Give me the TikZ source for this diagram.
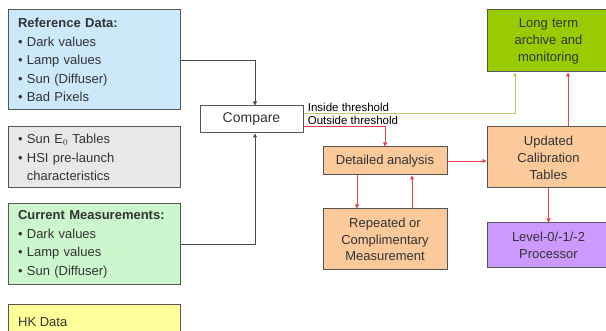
\documentclass[tikz,border=0pt]{standalone}
\usepackage{fontspec}
\setmainfont{Liberation Sans}
\usepackage{xcolor}
\usetikzlibrary{arrows.meta,calc}
\definecolor{refblue}{HTML}{CCE8FB}
\definecolor{tabgray}{HTML}{E8E8E8}
\definecolor{curgreen}{HTML}{CCF7CC}
\definecolor{hkyellow}{HTML}{FFFF99}
\definecolor{anaorange}{HTML}{FCC99B}
\definecolor{archgreen}{HTML}{99CC00}
\definecolor{procpurple}{HTML}{CC99FF}
\definecolor{redline}{HTML}{E8414F}
\definecolor{grnline}{HTML}{B3CF6A}
\definecolor{boxline}{HTML}{555555}

\begin{document}
\begin{tikzpicture}[x=1pt,y=-1pt,font=\fontsize{13}{18.5}\selectfont,
    box/.style={draw=boxline,line width=1pt,rectangle,inner sep=0pt,text=black!80},
    leftbox/.style={box,minimum width=172pt,text width=152pt,align=left},
    rightbox/.style={box,minimum width=123pt,text width=115pt,align=center,font=\fontsize{13}{17}\selectfont},
    arr/.style={-{Triangle[length=4pt,width=4pt]},draw=black!70,line width=0.8pt},
    redarr/.style={arr,draw=redline},
    grnarr/.style={arr,draw=grnline},
    thrlabel/.style={above right,inner sep=1pt,xshift=3pt,font=\fontsize{11.5}{13}\selectfont}]
        \useasboundingbox (0,0) rectangle (606,331);
        % data boxes on the left
        \node[leftbox,fill=refblue,minimum height=100pt] (refdata) at (94,60)
            {\textbf{Reference Data:}\\ \textbullet\ Dark values\\ \textbullet\ Lamp values\\ \textbullet\ Sun (Diffuser)\\ \textbullet\ Bad Pixels};
        \node[leftbox,fill=tabgray,minimum height=61pt] (sundata) at (94,157.5)
            {\textbullet\ Sun E$_0$ Tables\\ \textbullet\ HSI pre-launch\\ \hphantom{\textbullet\ }characteristics};
        \node[leftbox,fill=curgreen,minimum height=81pt] (curmeas) at (94,244.5)
            {\textbf{Current Measurements:}\\ \textbullet\ Dark values\\ \textbullet\ Lamp values\\ \textbullet\ Sun (Diffuser)};
        \draw[box,fill=hkyellow] (8,305) rectangle (180,345);
        \node[anchor=west,text=black!80,inner sep=0pt] (hktext) at (18,322) {HK Data};
        % processing chain
        \node[box,fill=white,minimum width=103pt,minimum height=27pt,font=\fontsize{14}{16}\selectfont] (compare) at (251.5,119.5) {Compare};
        \node[box,fill=anaorange,minimum width=124pt,minimum height=28pt] (detail) at (385,161) {Detailed analysis};
        \node[box,fill=anaorange,minimum width=124pt,minimum height=61pt,align=center,font=\fontsize{13}{16.5}\selectfont] (repeated) at (385,239.5)
            {Repeated or\\ Complimentary\\ Measurement};
        \node[rightbox,fill=archgreen,minimum height=62pt] (archive) at (548.5,41)
            {Long term\\ archive and\\ monitoring};
        \node[rightbox,fill=anaorange,minimum height=61pt] (caltab) at (548.5,157.5)
            {Updated\\ Calibration\\ Tables};
        \node[rightbox,fill=procpurple,minimum height=45pt] (proc) at (548.5,245.5)
            {Level-0/-1/-2\\ Processor};
        % connectors
        \draw[arr] (refdata.east) -| ([xshift=3.5pt]compare.north);
        \draw[arr] (curmeas.east) -| ([xshift=3.5pt]compare.south);
        \draw[grnarr] ([yshift=6.5pt]compare.east) node[thrlabel] (inlabel) {Inside threshold}
            -| ([xshift=-33.5pt]archive.south);
        \draw[redarr] ([yshift=-6.5pt]compare.east) node[thrlabel] (outlabel) {Outside threshold}
            -| (detail.north);
        \draw[redarr] (detail.east) -- (detail.east -| caltab.west);
        \draw[redarr] ([xshift=-28pt]detail.south) -- ([xshift=-28pt]repeated.north);
        \draw[redarr] ([xshift=27pt]repeated.north) -- ([xshift=27pt]detail.south);
        \draw[redarr] ([xshift=19.5pt]caltab.north) -- ([xshift=19.5pt]archive.south);
        \draw[redarr] (caltab.south) -- (proc.north);
\end{tikzpicture}
\end{document}
